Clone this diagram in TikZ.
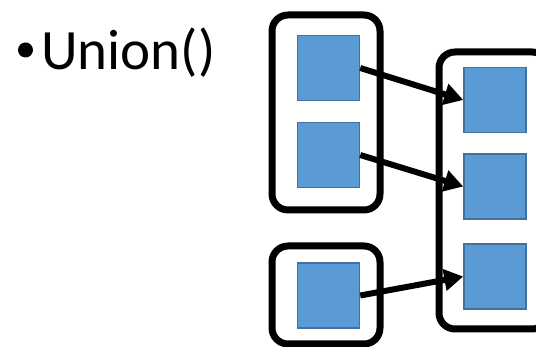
\documentclass[tikz,border=0pt]{standalone}
\usepackage{fontspec}
\setmainfont{Carlito}
\usetikzlibrary{arrows.meta}
\begin{document}
\begin{tikzpicture}[x=1pt,y=-1pt,
  setbox/.style={draw=black,line width=7pt,rounded corners=16pt},
  elem/.style={draw=elemedge,fill=elemfill,line width=1.5pt,minimum width=62pt,minimum height=65pt,inner sep=0pt},
  link/.style={line width=6pt,-{Triangle[length=19pt,width=21pt]}}]
\definecolor{elemfill}{HTML}{5B9BD5}
\definecolor{elemedge}{HTML}{41719C}
\useasboundingbox (0,0) rectangle (536,347);
% bullet item
\node[circle,fill=black,inner sep=0pt,minimum size=15pt] (bullet) at (25.5,50) {};
\node[anchor=base west,inner sep=0pt,font=\fontsize{57}{60}\selectfont] (title) at (41,70) {Union()};
% containers
\draw[setbox] (272,15) rectangle (380,210);
\draw[setbox] (272,246) rectangle (380,344);
\draw[setbox] (439,52) rectangle (548,329);
% elements
\node[elem] (a1) at (328.5,68) {};
\node[elem] (a2) at (328.5,155) {};
\node[elem] (b1) at (328.5,295.5) {};
\node[elem] (c1) at (495,100) {};
\node[elem] (c2) at (495,186.5) {};
\node[elem] (c3) at (495,276.5) {};
% unions
\draw[link] (a1.east) -- (c1.west);
\draw[link] (a2.east) -- (c2.west);
\draw[link] (b1.east) -- (c3.west);
\end{tikzpicture}
\end{document}
